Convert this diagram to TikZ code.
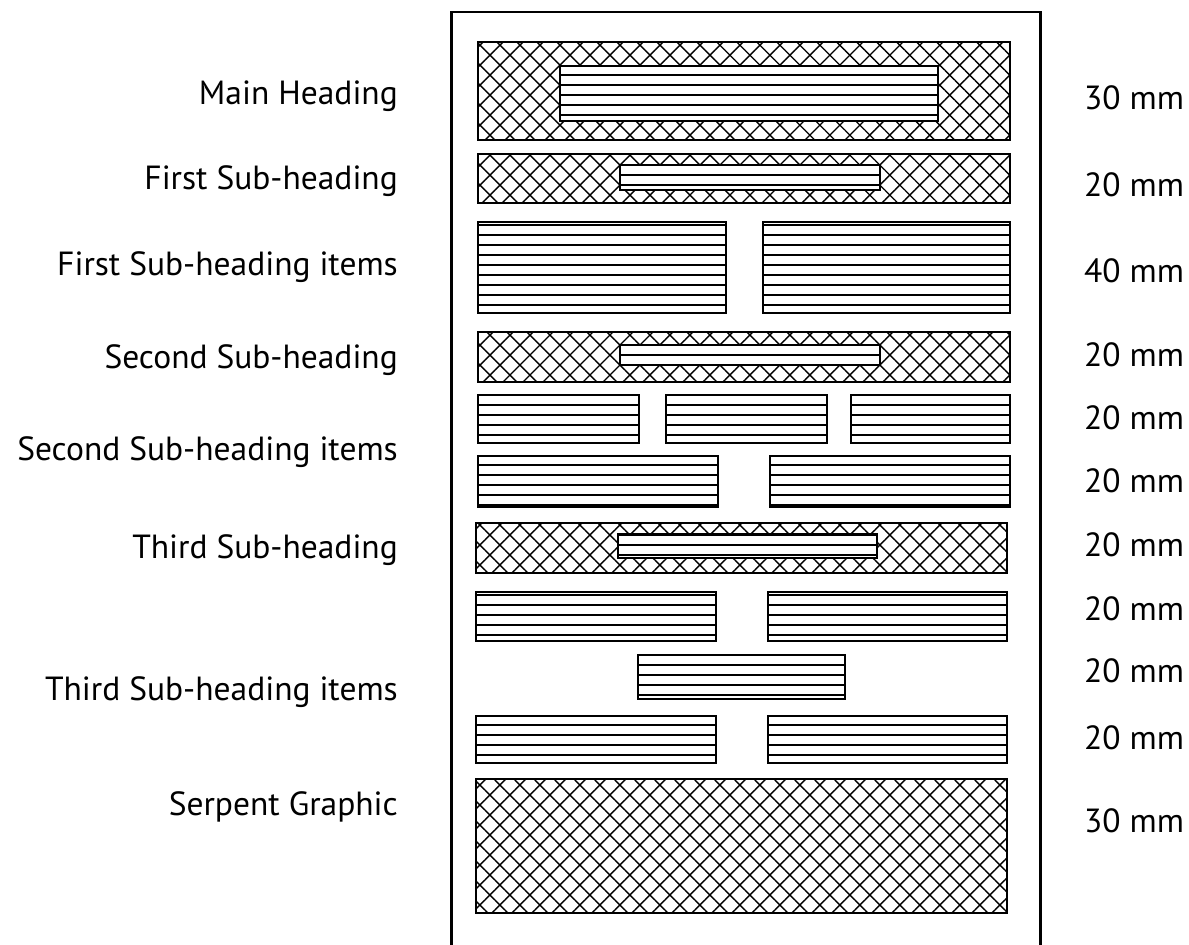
\documentclass[tikz,border=0pt]{standalone}
\usepackage{fontspec}
\setmainfont{PT Sans}
\usetikzlibrary{patterns.meta}
\tikzset{
  frameline/.style={line width=2.5pt},
  xbox/.style={rectangle, draw, line width=2pt, inner sep=0pt, outer sep=0pt,
    pattern={Lines[angle=45,distance=14.14pt,line width=1.4pt]},
    postaction={pattern={Lines[angle=-45,distance=14.14pt,line width=1.4pt]}}},
  lbox/.style={rectangle, draw, line width=2pt, inner sep=0pt, outer sep=0pt, fill=white,
    postaction={pattern={Lines[angle=0,distance=10pt,line width=1.5pt]}}},
  lab/.style={anchor=base east, inner sep=0pt, font=\fontsize{33.5}{33.5}\selectfont},
  mm/.style={anchor=base west, inner sep=0pt, font=\fontsize{33.5}{33.5}\selectfont},
}
\begin{document}
\begin{tikzpicture}[x=1pt,y=-1pt]
\useasboundingbox (0,0) rectangle (1189,945);
% frame
\coordinate (fbl) at (451.5,946);
\coordinate (ftl) at (451.5,12);
\coordinate (ftr) at (1040.5,12);
\coordinate (fbr) at (1040.5,946);
\draw[frameline] (fbl) -- (ftl) -- (ftr) -- (fbr);
% main heading
\node[xbox, minimum width=532pt, minimum height=98pt] (mainh) at (744,91) {};
\node[lbox, minimum width=378pt, minimum height=55pt] (mainhin) at (749,93.5) {};
% first sub-heading
\node[xbox, minimum width=532pt, minimum height=49pt] (sub1) at (744,178.5) {};
\node[lbox, minimum width=260pt, minimum height=25pt] (sub1in) at (750,177.5) {};
% first items
\node[lbox, minimum width=248pt, minimum height=91pt] (it1a) at (602,267.5) {};
\node[lbox, minimum width=247pt, minimum height=91pt] (it1b) at (886.5,267.5) {};
% second sub-heading
\node[xbox, minimum width=532pt, minimum height=50pt] (sub2) at (744,357) {};
\node[lbox, minimum width=260pt, minimum height=20pt] (sub2in) at (750,355) {};
% second items
\node[lbox, minimum width=161pt, minimum height=48pt] (it2a) at (558.5,419) {};
\node[lbox, minimum width=161pt, minimum height=48pt] (it2b) at (746.5,419) {};
\node[lbox, minimum width=159pt, minimum height=48pt] (it2c) at (930.5,419) {};
\node[lbox, minimum width=240pt, minimum height=51pt] (it2d) at (598,481.5) {};
\node[lbox, minimum width=240pt, minimum height=51pt] (it2e) at (890,481.5) {};
% third sub-heading
\node[xbox, minimum width=531pt, minimum height=50pt] (sub3) at (741.5,548) {};
\node[lbox, minimum width=259pt, minimum height=24pt] (sub3in) at (747.5,546) {};
% third items
\node[lbox, minimum width=240pt, minimum height=49pt] (it3a) at (596,616.5) {};
\node[lbox, minimum width=239pt, minimum height=49pt] (it3b) at (887.5,616.5) {};
\node[lbox, minimum width=207pt, minimum height=44pt] (it3c) at (741.5,677) {};
\node[lbox, minimum width=240pt, minimum height=47pt] (it3d) at (596,739.5) {};
\node[lbox, minimum width=239pt, minimum height=47pt] (it3e) at (887.5,739.5) {};
% serpent
\node[xbox, minimum width=531pt, minimum height=134pt] (serp) at (741.5,846) {};
% left labels
\node[lab] (l1) at (398,104) {Main Heading};
\node[lab] (l2) at (398,189) {First Sub-heading};
\node[lab] (l3) at (398,275) {First Sub-heading items};
\node[lab] (l4) at (398,368) {Second Sub-heading};
\node[lab] (l5) at (398,460) {Second Sub-heading items};
\node[lab] (l6) at (398,558) {Third Sub-heading};
\node[lab] (l7) at (398,700) {Third Sub-heading items};
\node[lab] (l8) at (398,815) {Serpent Graphic};
% right labels
\node[mm] (r1) at (1084,109) {30 mm};
\node[mm] (r2) at (1084,196) {20 mm};
\node[mm] (r3) at (1084,282) {40 mm};
\node[mm] (r4) at (1084,366) {20 mm};
\node[mm] (r5) at (1084,429) {20 mm};
\node[mm] (r6) at (1084,492) {20 mm};
\node[mm] (r7) at (1084,556) {20 mm};
\node[mm] (r8) at (1084,620) {20 mm};
\node[mm] (r9) at (1084,682) {20 mm};
\node[mm] (r10) at (1084,749) {20 mm};
\node[mm] (r11) at (1084,832) {30 mm};
\end{tikzpicture}
\end{document}
